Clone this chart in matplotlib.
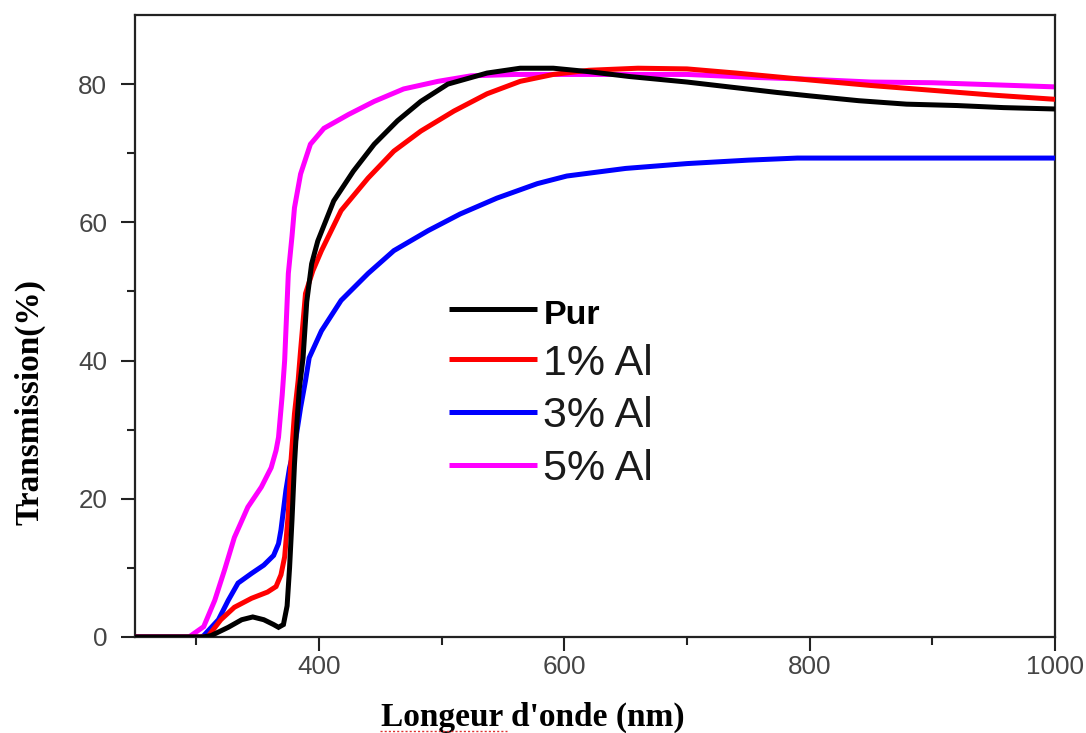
import matplotlib
matplotlib.use("Agg")
import matplotlib.pyplot as plt
from matplotlib.lines import Line2D

# Transmission spectra of ZnO films, pure and Al-doped
labels = ["Pur", "1% Al", "3% Al", "5% Al"]
colors = ["#000000", "#ff0000", "#0000ff", "#ff00ff"]

wl_pur = [250, 305, 312, 326, 337, 346, 355, 363, 367, 371, 374, 376, 378, 380, 382, 384, 387,
          390, 394, 399, 412, 428, 445, 464, 483, 505, 537, 564, 591, 620, 653, 700, 773, 800,
          840, 879, 920, 958, 1000]
t_pur = [0, 0, 0.2, 1.4, 2.5, 2.9, 2.5, 1.8, 1.4, 1.8, 4.5, 10, 17, 25, 31, 36, 40.4,
         48.5, 54, 57.3, 63.1, 67.4, 71.3, 74.7, 77.5, 80, 81.6, 82.3, 82.3, 81.8, 81.1, 80.3, 78.8, 78.3,
         77.6, 77.1, 76.9, 76.6, 76.4]

wl_al1 = [250, 308, 310, 320, 331, 345, 358, 365, 369, 372, 375, 377, 380, 383, 385, 389, 395,
          402, 418, 440, 461, 483, 510, 537, 564, 591, 620, 660, 700, 740, 800, 850, 900, 950, 1000]
t_al1 = [0, 0, 0.2, 2.5, 4.3, 5.6, 6.5, 7.3, 9, 11.6, 17.9, 25.1, 32.3, 37.1, 41.5, 49.7, 53,
         55.9, 61.7, 66.4, 70.3, 73.2, 76.1, 78.6, 80.4, 81.4, 82, 82.3, 82.2, 81.6, 80.6, 79.8, 79.1, 78.4, 77.8]

wl_al3 = [250, 304, 306, 318, 326, 334, 345, 355, 363, 367, 369, 373, 376, 380, 385, 389, 392,
          402, 418, 440, 461, 489, 515, 545, 578, 602, 650, 700, 750, 790, 850, 1000]
t_al3 = [0, 0, 0.2, 2.5, 5.3, 7.8, 9.2, 10.4, 11.8, 13.5, 15.5, 21.2, 24.5, 27.4, 33.2, 37.1, 40.4,
         44.3, 48.7, 52.6, 55.9, 58.8, 61.2, 63.5, 65.6, 66.7, 67.8, 68.5, 69, 69.3, 69.3, 69.3]

wl_al5 = [250, 294, 298, 306, 315, 323, 331, 342, 353, 361, 365, 367, 370, 372, 375, 378, 380,
          385, 393, 404, 424, 445, 469, 497, 524, 560, 600, 700, 750, 800, 850, 900, 950, 1000]
t_al5 = [0, 0, 0.5, 1.5, 5.3, 9.7, 14.4, 18.8, 21.7, 24.5, 27, 28.9, 35, 40, 52.6, 58, 62.1,
         67, 71.3, 73.6, 75.6, 77.5, 79.3, 80.4, 81.2, 81.4, 81.4, 81.4, 81, 80.7, 80.3, 80.2, 79.9, 79.6]

series = [(wl_pur, t_pur), (wl_al1, t_al1), (wl_al3, t_al3), (wl_al5, t_al5)]

fig = plt.figure(figsize=(10.86, 7.33), dpi=100)
ax = fig.add_axes([135 / 1086, 1 - 637 / 733, 920 / 1086, 622 / 733])

zorders = [5, 4, 3, 2]
handles = []
for (x, y), lab, c, z in zip(series, labels, colors, zorders):
    (ln,) = ax.plot(x, y, color=c, lw=3.6, label=lab, zorder=z,
                    solid_joinstyle="miter", solid_capstyle="butt")
    handles.append(ln)

ax.set_xlim(250, 1000)
ax.set_ylim(0, 90)
ax.set_xticks([400, 600, 800, 1000])
ax.set_xticks([300, 500, 700, 900], minor=True)
ax.set_yticks([0, 20, 40, 60, 80])
ax.set_yticks([10, 30, 50, 70], minor=True)

for s in ax.spines.values():
    s.set_linewidth(1.6)
    s.set_color("#222222")

ax.tick_params(axis="both", which="major", direction="out", length=10, width=1.5,
               color="#222222", labelsize=18.7, labelcolor="#454545")
ax.tick_params(axis="both", which="minor", direction="out", length=6, width=1.5,
               color="#222222")
ax.tick_params(axis="y", which="major", pad=10)
ax.tick_params(axis="x", which="major", pad=3)
for t in ax.get_xticklabels() + ax.get_yticklabels():
    t.set_fontfamily("Liberation Sans")

ax.set_xlabel("Longeur d'onde (nm)", fontfamily="Liberation Serif", fontweight="bold",
              fontsize=24, va="center")
ax.xaxis.set_label_coords(0.432, -0.130)
ax.set_ylabel("Transmission(%)", fontfamily="Liberation Serif", fontweight="bold",
              fontsize=24, va="center")
ax.yaxis.set_label_coords(-0.114, 0.378)

# spell-check underline beneath the first word of the x label
fig.add_artist(Line2D([380 / 1086, 507 / 1086], [1 - 731 / 733] * 2, color="#e03030",
                      lw=1.0, ls=(0, (1.5, 1.5))))

leg = ax.legend(handles, labels, loc="upper left", bbox_to_anchor=(0.341, 0.5523),
                frameon=False, fontsize=31, handlelength=2.05, handletextpad=0.15,
                labelspacing=0.30, borderpad=0, borderaxespad=0)
for i, t in enumerate(leg.get_texts()):
    t.set_fontfamily("Liberation Sans")
    t.set_color("#1a1a1a")
    if i == 0:
        t.set_fontweight("bold")
        t.set_fontsize(24.5)
        t.set_color("#000000")
for h in leg.get_lines():
    h.set_linewidth(3.6)

fig.savefig("out.png", dpi=100, facecolor="white")
